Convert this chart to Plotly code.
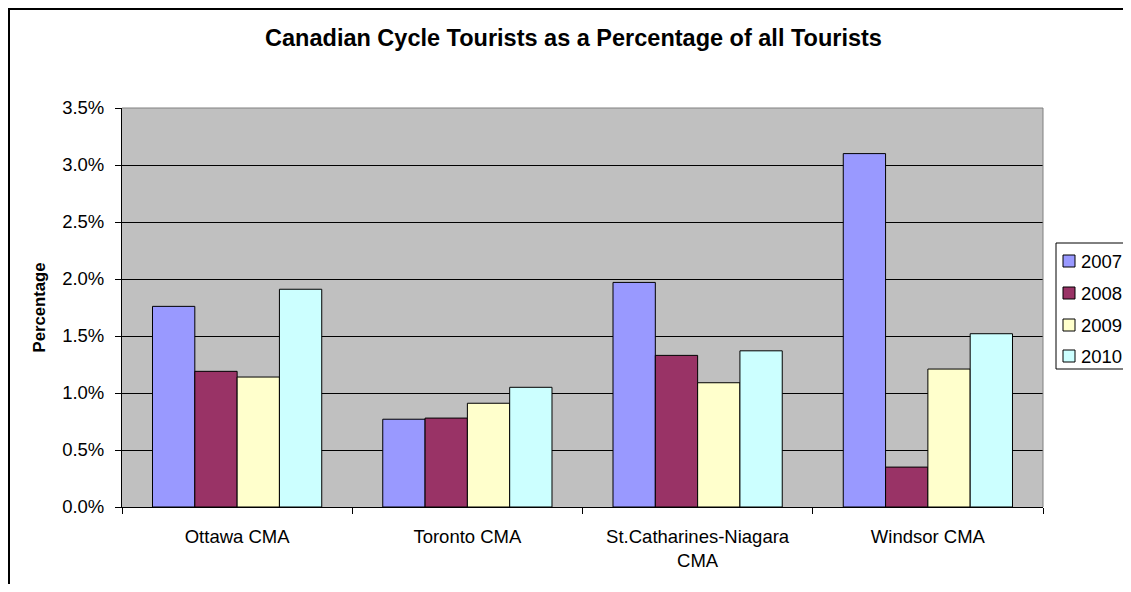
import plotly.graph_objects as go

categories = ["Ottawa CMA", "Toronto CMA", "St.Catharines-Niagara<br>CMA", "Windsor CMA"]
years = ["2007", "2008", "2009", "2010"]
v2007 = [0.0176, 0.0077, 0.0197, 0.0310]
v2008 = [0.0119, 0.0078, 0.0133, 0.0035]
v2009 = [0.0114, 0.0091, 0.0109, 0.0121]
v2010 = [0.0191, 0.0105, 0.0137, 0.0152]
series = [v2007, v2008, v2009, v2010]
colors = ["#9999FF", "#993366", "#FFFFCC", "#CCFFFF"]
y_ticks = [0, 0.005, 0.01, 0.015, 0.02, 0.025, 0.03, 0.035]

FONT = "Liberation Sans, Arial, sans-serif"

# page offset introduced by the default body margin of the html page
OFF = 8
W, H = 1131 - 2 * OFF, 592 - 2 * OFF
L, T = 122 - OFF, 108 - OFF
R = W - (1043 - OFF)
B = H - (507 - OFF)
pw, ph = W - L - R, H - T - B


def px_x(x):
    """page x pixel -> paper fraction"""
    return (x - OFF - L) / pw


def px_y(y):
    """page y pixel -> paper fraction"""
    return (H - B - (y - OFF)) / ph


fig = go.Figure()
for name, vals, col in zip(years, series, colors):
    fig.add_trace(go.Bar(
        x=categories, y=vals, name=name,
        marker=dict(color=col, line=dict(color="black", width=1)),
        showlegend=False,
    ))

fig.update_layout(
    width=W, height=H,
    margin=dict(l=L, r=R, t=T, b=B, autoexpand=False),
    paper_bgcolor="white",
    plot_bgcolor="#C0C0C0",
    barmode="group", bargap=0.265, bargroupgap=0,
    font=dict(family=FONT, size=18.5, color="black"),
    title=dict(
        text="Canadian Cycle Tourists as a Percentage of all Tourists",
        font=dict(family=FONT, size=23.5, color="black", weight="bold"),
        xref="container", x=(573.5 - OFF) / W, xanchor="center",
        yref="container", y=1 - (38 - OFF) / H, yanchor="middle",
    ),
    xaxis=dict(
        showgrid=False, showline=True, linecolor="black", linewidth=1,
        ticks="outside", tickson="boundaries", ticklen=6, tickcolor="black",
        ticklabelstandoff=13,
        tickfont=dict(family=FONT, size=18.5, color="black"),
    ),
    yaxis=dict(
        range=[0, 0.035], tickvals=y_ticks, tickformat=".1%",
        showgrid=True, gridcolor="black", gridwidth=1,
        showline=True, linecolor="black", linewidth=1,
        ticks="outside", ticklen=6, tickcolor="black",
        ticklabelstandoff=7,
        tickfont=dict(family=FONT, size=18.5, color="black"),
        zeroline=False,
        title=dict(text="Percentage", standoff=12,
                   font=dict(family=FONT, size=16.7, color="black", weight="bold")),
    ),
    showlegend=False,
)

# plot-area border (top and right, grey)
fig.add_shape(type="line", xref="paper", yref="paper", x0=0, x1=1, y0=1, y1=1,
              line=dict(color="#808080", width=1), layer="above")
fig.add_shape(type="line", xref="paper", yref="paper", x0=1, x1=1, y0=0, y1=1,
              line=dict(color="#808080", width=1), layer="above")
# chart outer border (right and bottom edges lie outside the visible page)
fig.add_shape(type="rect", xref="paper", yref="paper",
              x0=px_x(OFF + 1), x1=px_x(1160), y0=px_y(620), y1=px_y(OFF + 1),
              line=dict(color="black", width=2), fillcolor="rgba(0,0,0,0)", layer="above")

# legend (box, swatches, labels)
fig.add_shape(type="rect", xref="paper", yref="paper",
              x0=px_x(1056), x1=px_x(1160), y0=px_y(369), y1=px_y(243),
              line=dict(color="black", width=1), fillcolor="white", layer="above")
leg_y = [261, 293, 325, 356]
for name, col, yc in zip(years, colors, leg_y):
    fig.add_shape(type="rect", xref="paper", yref="paper",
                  x0=px_x(1063), x1=px_x(1075), y0=px_y(yc + 6), y1=px_y(yc - 6),
                  line=dict(color="black", width=1), fillcolor=col, layer="above")
    fig.add_annotation(text=name, xref="paper", yref="paper",
                       x=px_x(1079), y=px_y(yc), xanchor="left", yanchor="middle",
                       showarrow=False, font=dict(family=FONT, size=18.5, color="black"))

fig.write_html("out.html")
